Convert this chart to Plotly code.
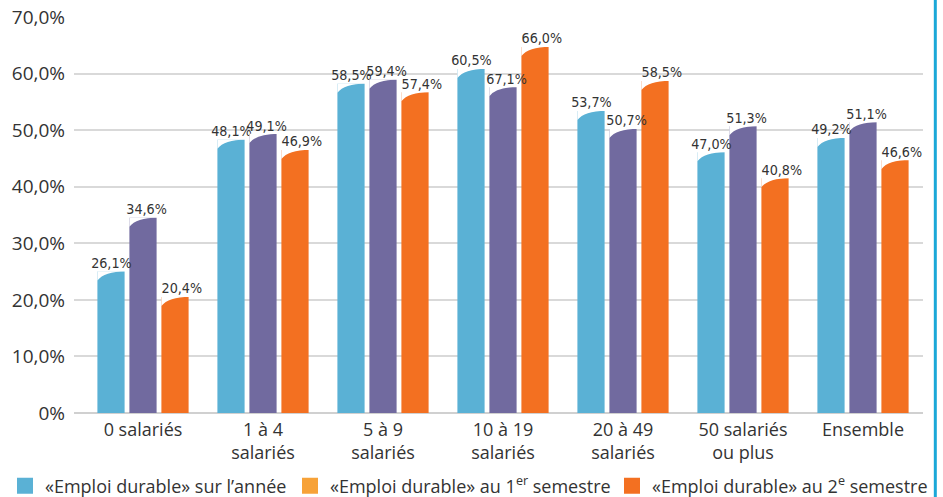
import plotly.graph_objects as go

categories = ["0 salariés", "1 à 4<br>salariés", "5 à 9<br>salariés", "10 à 19<br>salariés",
              "20 à 49<br>salariés", "50 salariés<br>ou plus", "Ensemble"]

# bar heights (the drawn bars, in %)
annee = [25.0, 48.3, 58.2, 60.8, 53.4, 46.1, 48.6]
sem1 = [34.5, 49.3, 58.9, 57.6, 50.2, 50.7, 51.4]
sem2 = [20.5, 46.5, 56.7, 64.7, 58.7, 41.5, 44.7]

# value labels as printed on the chart
annee_labels = ["26,1%", "48,1%", "58,5%", "60,5%", "53,7%", "47,0%", "49,2%"]
sem1_labels = ["34,6%", "49,1%", "59,4%", "67,1%", "50,7%", "51,3%", "51,1%"]
sem2_labels = ["20,4%", "46,9%", "57,4%", "66,0%", "58,5%", "40,8%", "46,6%"]

legend_names = ["«Emploi durable» sur l’année",
                "«Emploi durable» au 1<sup>er</sup> semestre",
                "«Emploi durable» au 2<sup>e</sup> semestre"]
legend_colors = ["#5AB1D5", "#F7A238", "#F37021"]
bar_colors = ["#5AB1D5", "#716A9F", "#F37021"]

ytick_vals = [0, 10, 20, 30, 40, 50, 60, 70]
ytick_text = ["0%", "10,0%", "20,0%", "30,0%", "40,0%", "50,0%", "60,0%", "70,0%"]

W, H = 943, 497
M_L, M_R, M_T, M_B = 74, 20, 17, 84
Y_MAX = 70
BARGAP, BARGROUPGAP = 0.2, 0.15

label_font = dict(family="Liberation Sans Narrow, DejaVu Sans Condensed, sans-serif", size=14.2, color="#333333")

series = [annee, sem1, sem2]
labels = [annee_labels, sem1_labels, sem2_labels]
xs = list(range(len(categories)))

n = len(series)
slot = (1 - BARGAP) / n
bw = slot * (1 - BARGROUPGAP)
offsets = [-(1 - BARGAP) / 2 + slot * (i + 0.5) for i in range(n)]

fig = go.Figure()
for vals, col in zip(series, bar_colors):
    fig.add_trace(go.Bar(
        x=xs, y=vals, marker=dict(color=col, line=dict(width=0)),
        showlegend=False, hoverinfo="skip"))

# value labels, spread slightly wider than the bars as in the original
for vals, labs, off in zip(series, labels, offsets):
    fig.add_trace(go.Scatter(
        x=[xc + off * 1.1 + 0.03 for xc in xs], y=vals, text=labs,
        mode="text", textposition="top center", textfont=label_font,
        showlegend=False, hoverinfo="skip", cliponaxis=False))

legend_keys = ["legend", "legend2", "legend3"]
for name, col, key in zip(legend_names, legend_colors, legend_keys):
    fig.add_trace(go.Scatter(
        x=[None], y=[None], mode="markers", name=name, legend=key,
        marker=dict(symbol="square", size=23, color=col)))

# curved (cylindrical) bar tops: carve a white wedge at the top-left of each bar
px_per_unit = (H - M_T - M_B) / Y_MAX
drop = 9 / px_per_unit
shapes = []
for vals, off in zip(series, offsets):
    for xc, v in zip(xs, vals):
        xl = xc + off - bw / 2
        xr = xc + off + bw / 2
        path = (f"M {xl:.4f},{v + 0.05:.4f} L {xl:.4f},{v - drop:.4f} "
                f"Q {xl + 0.25 * bw:.4f},{v:.4f} {xr + 0.01:.4f},{v + 0.05:.4f} Z")
        shapes.append(dict(type="path", path=path, xref="x", yref="y",
                           fillcolor="white", line=dict(width=0), layer="above"))

shapes.append(dict(type="line", xref="paper", yref="paper", x0=1.0145, x1=1.0145, y0=-0.3, y1=1.1,
                   line=dict(color="#1BA8D8", width=3)))

legend_common = dict(orientation="h", xref="container", yref="container", y=0.022,
                     yanchor="middle", xanchor="left",
                     font=dict(family="Open Sans, sans-serif", size=18, color="#333333"),
                     itemwidth=30, bgcolor="rgba(0,0,0,0)")

fig.update_layout(
    width=W, height=H,
    margin=dict(l=M_L, r=M_R, t=M_T, b=M_B),
    paper_bgcolor="white", plot_bgcolor="white",
    font=dict(family="Open Sans, sans-serif", color="#333333", size=17),
    barmode="group", bargap=BARGAP, bargroupgap=BARGROUPGAP,
    xaxis=dict(tickmode="array", tickvals=xs, ticktext=categories,
               range=[-0.575, 6.5], showgrid=False, zeroline=False, showline=False,
               ticks="", ticklabelstandoff=4,
               tickfont=dict(size=18, color="#333333"), automargin=False),
    yaxis=dict(range=[0, Y_MAX], tickmode="array", tickvals=ytick_vals, ticktext=ytick_text,
               showgrid=True, gridcolor="#D9D9D9", gridwidth=1.5, zeroline=True,
               zerolinecolor="#D0D0D0", zerolinewidth=1.5, ticks="",
               ticklabelstandoff=8,
               tickfont=dict(size=19, color="#333333"), automargin=False),
    legend=dict(legend_common, x=5 / W),
    legend2=dict(legend_common, x=290 / W),
    legend3=dict(legend_common, x=612 / W),
    shapes=shapes,
)

fig.write_html("out.html")
